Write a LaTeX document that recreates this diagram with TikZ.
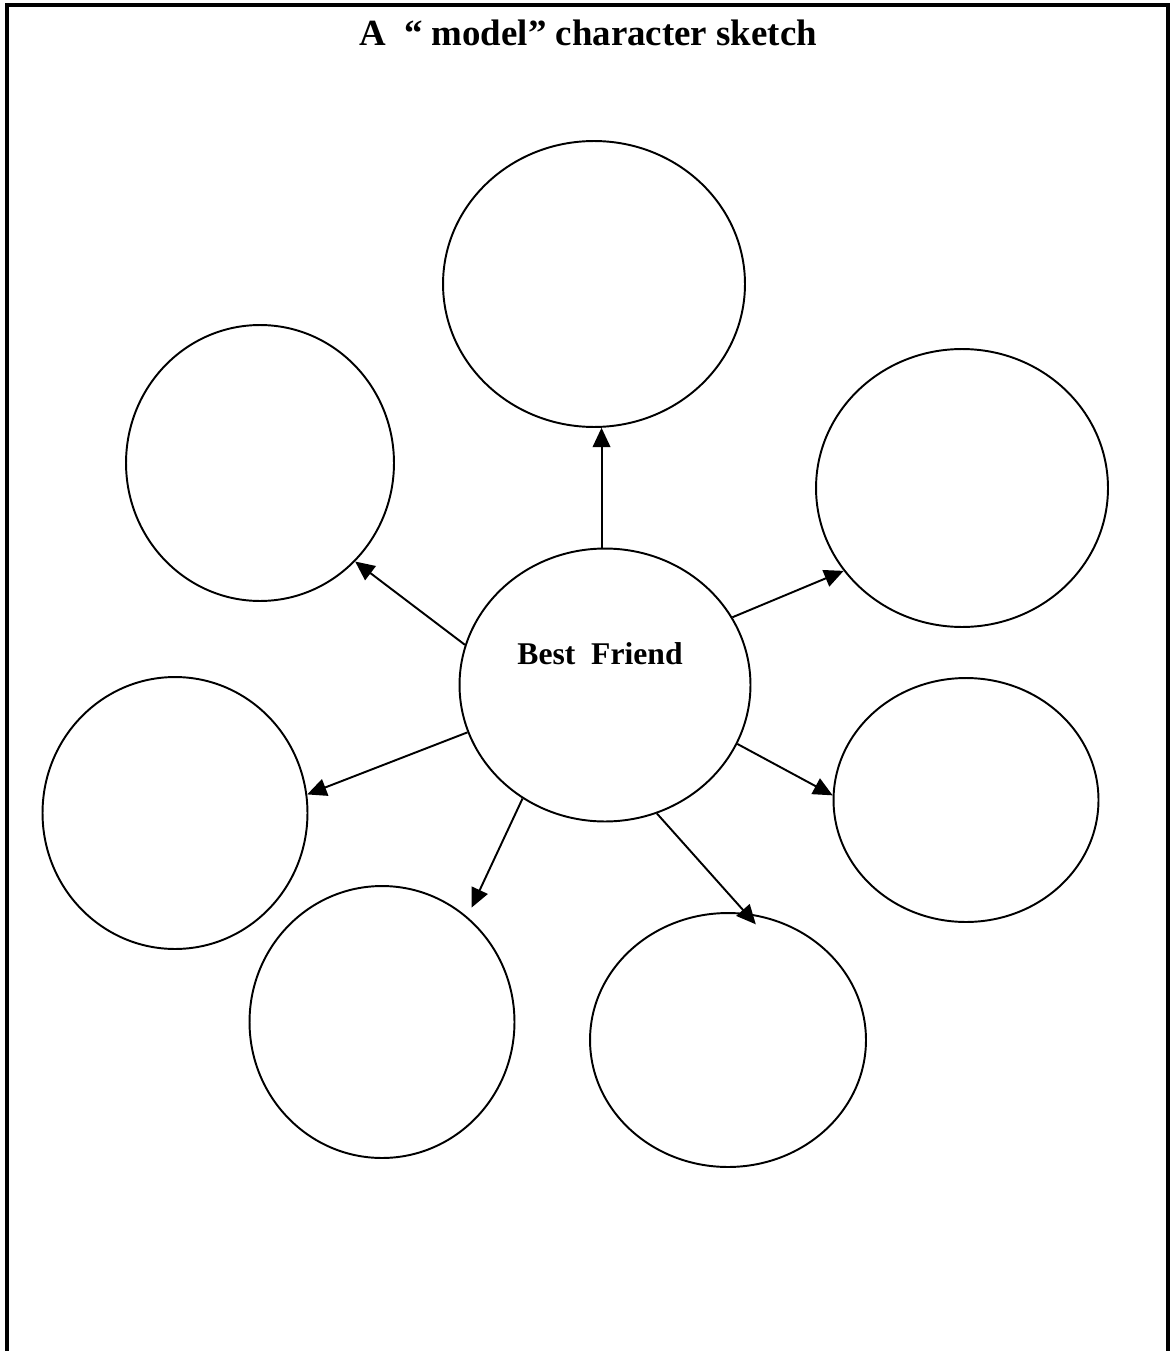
\documentclass[tikz,border=0pt]{standalone}
\usepackage{fontspec}
\setmainfont{Liberation Serif}
\usetikzlibrary{arrows.meta,shapes.geometric}

\begin{document}
\begin{tikzpicture}[
        x=0.02cm, y=-0.02cm,
        bubble/.style={draw, ellipse, inner sep=0pt, line width=1.1pt},
        link/.style={-{Triangle[length=11pt,width=10pt]}, line width=1.1pt}
    ]
        \useasboundingbox (0,0) rectangle (1172,1351);
        \draw[line width=2pt] (7,5) rectangle (1168,1400);
        \node[font=\bfseries\fontsize{21}{25}\selectfont, anchor=base] (title) at (588,46) {A\ \ “ model” character sketch};

        \node[bubble, minimum width=6.04cm, minimum height=5.72cm] (top) at (594,284) {};
        \node[bubble, minimum width=5.36cm, minimum height=5.52cm] (upleft) at (260,463) {};
        \node[bubble, minimum width=5.84cm, minimum height=5.56cm] (upright) at (962,488) {};
        \node[bubble, minimum width=5.82cm, minimum height=5.46cm] (best) at (605,685) {};
        \node[font=\bfseries\fontsize{18}{22}\selectfont, anchor=base] (bestname) at (600,664) {Best\ \ Friend};
        \node[bubble, minimum width=5.30cm, minimum height=5.44cm] (left) at (175,813) {};
        \node[bubble, minimum width=5.30cm, minimum height=4.88cm] (right) at (966,800) {};
        \node[bubble, minimum width=5.30cm, minimum height=5.44cm] (lowleft) at (382,1022) {};
        \node[bubble, minimum width=5.52cm, minimum height=5.08cm] (lowright) at (728,1040) {};

        \draw[link] (top.273 |- best.north) -- (top.273);
        \draw[link] (best.164) -- (upleft.314);
        \draw[link] (best.28) -- (upright.215);
        \draw[link] (best.336) -- (right.178);
        \draw[link, shorten >=-0.3cm] (best.292) -- (lowright.82);
        \draw[link, shorten >=0.2cm] (best.234) -- (lowleft.51);
        \draw[link] (best.199) -- (left.8);
    \end{tikzpicture}
\end{document}
